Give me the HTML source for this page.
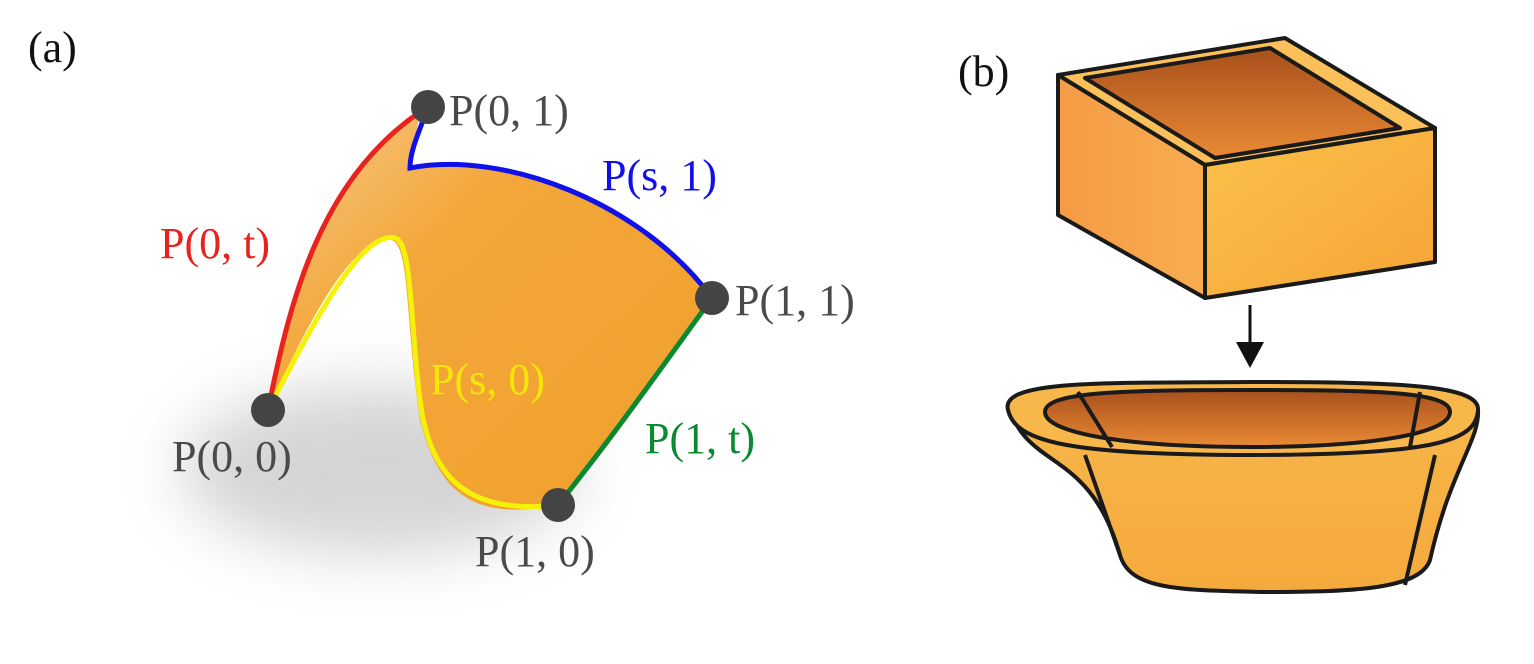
<!DOCTYPE html>
<html><head><meta charset="utf-8"><style>
html,body{margin:0;padding:0;background:#fff;width:1534px;height:664px;overflow:hidden}
svg text{font-family:"Liberation Serif",serif}
</style></head><body>
<svg width="1534" height="664" viewBox="0 0 1534 664">
<defs>
<filter id="blur" x="-50%" y="-50%" width="200%" height="200%"><feGaussianBlur stdDeviation="30"/></filter>
<linearGradient id="surf" x1="0" y1="0" x2="1" y2="1">
<stop offset="0" stop-color="#f7c98a"/><stop offset="0.35" stop-color="#f3a73a"/><stop offset="1" stop-color="#f0a02c"/></linearGradient>
<linearGradient id="boxL" x1="0" y1="0" x2="1" y2="0"><stop offset="0" stop-color="#f59b45"/><stop offset="1" stop-color="#f8ad50"/></linearGradient>
<linearGradient id="boxR" x1="0" y1="0" x2="1" y2="1"><stop offset="0" stop-color="#fbc24a"/><stop offset="1" stop-color="#f5a336"/></linearGradient>
<linearGradient id="inner" x1="0" y1="0" x2="0" y2="1"><stop offset="0" stop-color="#a8501c"/><stop offset="1" stop-color="#e98a34"/></linearGradient>
<linearGradient id="basin" x1="0" y1="0" x2="0" y2="1"><stop offset="0" stop-color="#f7b64a"/><stop offset="1" stop-color="#f5a93c"/></linearGradient>
</defs>

<g>
<text x="28" y="62" font-size="44" fill="#111">(a)</text>
<ellipse cx="380" cy="470" rx="200" ry="85" fill="#888" opacity="0.35" filter="url(#blur)"/>
<path fill="url(#surf)"
d="M268,410 C290,300 320,180 420,112 L410,168 C500,150 640,200 712,298 C660,370 610,450 558,505 C480,520 440,500 420,420 C405,320 410,240 390,240 C350,235 300,340 268,410 Z"/>
<path d="M268,410 C290,300 320,180 420,112" fill="none" stroke="#e8221c" stroke-width="5"/>
<path d="M428,107 C420,130 410,150 410,168 C500,150 640,200 712,298" fill="none" stroke="#1010e8" stroke-width="5"/>
<path d="M268,410 C310,330 360,230 395,238 C412,242 410,320 420,400 C430,480 470,515 558,505" fill="none" stroke="#f5f20a" stroke-width="5"/>
<path d="M558,505 C610,440 660,370 712,298" fill="none" stroke="#0a8a30" stroke-width="5"/>
<circle cx="428" cy="107" r="17" fill="#444"/>
<circle cx="712" cy="298" r="17" fill="#444"/>
<circle cx="268" cy="410" r="17" fill="#444"/>
<circle cx="558" cy="505" r="17" fill="#444"/>
<g font-size="44">
<text x="449" y="125" fill="#4a4a4a">P(0, 1)</text>
<text x="602" y="190" fill="#1010e8">P(s, 1)</text>
<text x="160" y="258" fill="#e8221c">P(0, t)</text>
<text x="735" y="315" fill="#4a4a4a">P(1, 1)</text>
<text x="430" y="394" fill="#f5e60a">P(s, 0)</text>
<text x="645" y="453" fill="#0a8a30">P(1, t)</text>
<text x="172" y="471" fill="#4a4a4a">P(0, 0)</text>
<text x="475" y="566" fill="#4a4a4a">P(1, 0)</text>
</g>
</g>

<g>
<text x="958" y="86" font-size="44" fill="#111">(b)</text>
<g stroke="#1a1a1a" stroke-width="4" stroke-linejoin="round">
<path d="M1058,75 L1285,38 L1435,128 L1205,165 Z" fill="#fbc05a"/>
<path d="M1085,78 L1270,48 L1400,128 L1215,158 Z" fill="url(#inner)"/>
<path d="M1058,75 L1205,165 L1205,298 L1058,215 Z" fill="url(#boxL)"/>
<path d="M1205,165 L1435,128 L1435,262 L1205,298 Z" fill="url(#boxR)"/>
</g>
<path d="M1250,305 L1250,350" stroke="#111" stroke-width="3"/>
<path d="M1236,342 L1250,368 L1264,342 Z" fill="#111"/>
<g stroke="#1a1a1a" stroke-width="4" stroke-linejoin="round">
<path d="M1010,410 C1030,470 1090,450 1120,555 C1130,590 1180,590 1260,592 C1350,592 1420,590 1430,560 C1450,470 1480,440 1478,410 C1470,450 1060,460 1010,410 Z" fill="url(#basin)"/>
<path d="M1008,410 C1000,380 1100,383 1250,382 C1400,382 1480,385 1478,410 C1476,440 1440,455 1250,455 C1060,455 1015,440 1008,410 Z" fill="#f8b74a"/>
<path d="M1045,412 C1045,392 1120,390 1250,390 C1380,390 1450,392 1450,412 C1450,432 1380,447 1250,447 C1120,447 1045,432 1045,412 Z" fill="url(#inner)"/>
<path d="M1078,392 L1112,447 M1420,392 L1410,447 M1120,555 L1085,455 M1405,585 L1435,455" fill="none"/>
</g>
</g>
</svg>
</body></html>
